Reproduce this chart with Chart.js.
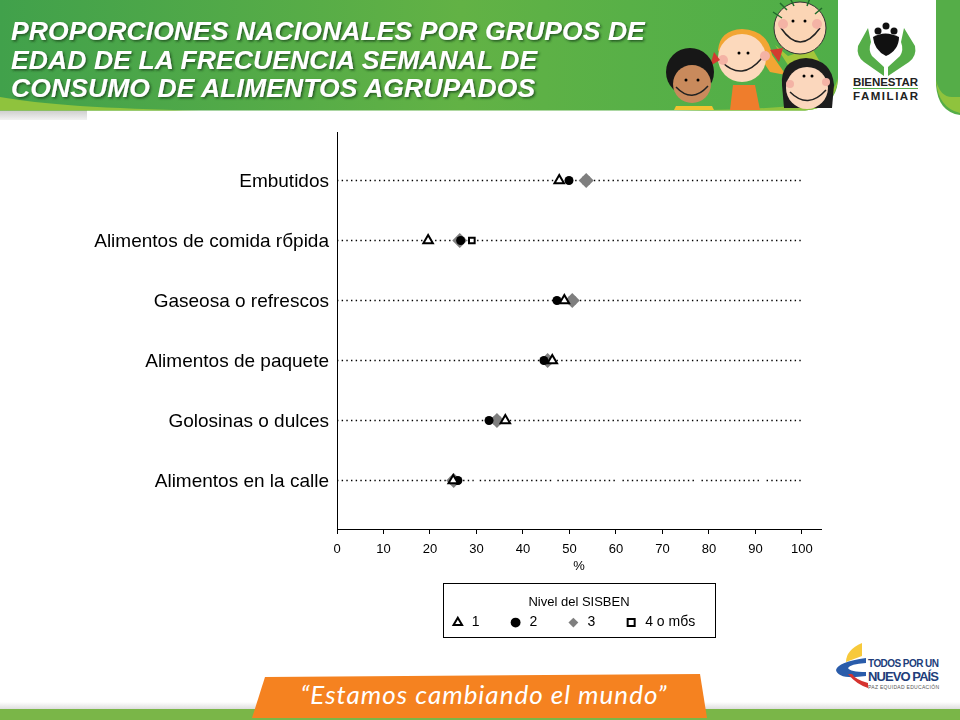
<!DOCTYPE html>
<html><head><meta charset="utf-8">
<style>
html,body{margin:0;padding:0;background:#fff;width:960px;height:720px;overflow:hidden}
#deco{position:absolute;left:0;top:0}
#wrap{position:absolute;left:0;top:0;width:960px;height:720px}
</style>
<script src="https://cdn.jsdelivr.net/npm/chart.js@4"></script>
</head><body>
<svg id="deco" width="960" height="720" viewBox="0 0 960 720" font-family="Liberation Sans">
<defs>
<linearGradient id="hd" x1="0" x2="1" y1="0" y2="0"><stop offset="0" stop-color="#41a14b"/><stop offset=".55" stop-color="#62b245"/><stop offset=".75" stop-color="#58b047"/><stop offset="1" stop-color="#4fae48"/></linearGradient>
<linearGradient id="gs" x1="0" x2="0" y1="0" y2="1"><stop offset="0" stop-color="#fff"/><stop offset="1" stop-color="#d9d9d9"/></linearGradient>
<linearGradient id="gy" x1="0" x2="0" y1="0" y2="1"><stop offset="0" stop-color="#ccc"/><stop offset="1" stop-color="#f2f2f2"/></linearGradient>
<filter id="sh" x="-5%" y="-20%" width="110%" height="140%"><feDropShadow dx="1.5" dy="1.5" stdDeviation="0.8" flood-color="#1b4d1f" flood-opacity=".9"/></filter>
</defs>
<rect x="0" y="110" width="87" height="10" fill="url(#gy)"/>
<path d="M0 0H838V80Q836 108 805 110.5H0Z" fill="url(#hd)"/>
<path d="M0 97Q60 108 200 110.500H0Z" fill="#8fc33d"/>
<path d="M838 78Q836 108 805 110.500H660Q800 110 822 100Q834 92 838 78Z" fill="#8fc33d"/>
<path d="M936 0H960V115Q938 112 936 85Z" fill="#55ad48"/>
<path d="M936 80Q938 108 960 113V97H952Q940 97 936 80Z" fill="#8fc33d"/>
<g font-weight="bold" font-style="italic" font-size="26.500" fill="#fff" filter="url(#sh)" letter-spacing="0.1">
<text x="11" y="40">PROPORCIONES NACIONALES POR GRUPOS DE</text>
<text x="11" y="68.500">EDAD DE LA FRECUENCIA SEMANAL DE</text>
<text x="11" y="96.500">CONSUMO DE ALIMENTOS AGRUPADOS</text>
</g>
<!-- niños -->
<g>
<path d="M775 45L788 56L812 48L820 62L790 68Z" fill="#a5c63b"/>
<circle cx="800" cy="28" r="26" fill="#fbd5b5" stroke="#333" stroke-width="1"/>
<path d="M781 28Q800 56 820 28" fill="none" stroke="#222" stroke-width="1.500"/>
<circle cx="783" cy="24" r="5" fill="#f4b3a5"/><circle cx="817" cy="24" r="5" fill="#f4b3a5"/>
<circle cx="793" cy="21" r="1.500"/><circle cx="805" cy="21" r="1.500"/>
<path d="M773 12L782 18M780 3L787 10M790 -2L794 6M810 -2L807 6M822 8L815 14" stroke="#1f6b2a" stroke-width="1.500"/>
<path d="M733 85H755L760 110H730Z" fill="#ef7d2c"/>
<path d="M718 50Q720 30 742 29Q768 30 772 55L786 75L770 72L762 60H722Z" fill="#f2a533"/>
<circle cx="742" cy="58" r="24" fill="#fcd9bc"/>
<path d="M722 62Q742 82 762 58" fill="none" stroke="#222" stroke-width="1.500"/>
<circle cx="723" cy="60" r="5" fill="#f4b3a5"/><circle cx="765" cy="56" r="5" fill="#f4b3a5"/>
<circle cx="739" cy="53" r="1.500"/><circle cx="748" cy="53" r="1.500"/>
<path d="M770 50L783 48L779 62Z" fill="#d3392f"/><path d="M714 52L720 60L710 66Z" fill="#d3392f"/>
<path d="M676 106H712L714 110H674Z" fill="#f2c230"/>
<circle cx="690" cy="72" r="24" fill="#171717"/>
<circle cx="692" cy="84" r="19" fill="#c98a5c"/>
<path d="M676 87Q692 104 708 86" fill="none" stroke="#222" stroke-width="1.500"/>
<circle cx="686" cy="80" r="1.500"/><circle cx="698" cy="80" r="1.500"/>
<path d="M782 85Q780 60 806 58Q832 60 834 85L832 108H784Z" fill="#1d1d1d"/>
<circle cx="807" cy="88" r="21" fill="#fbd7bd"/>
<path d="M790 92Q808 110 826 90" fill="none" stroke="#222" stroke-width="1.500"/>
<circle cx="804" cy="76" r="1.500"/><circle cx="812" cy="76" r="1.500"/>
<circle cx="790" cy="84" r="4" fill="#f4b3a5"/><circle cx="826" cy="82" r="4" fill="#f4b3a5"/>
</g>
<!-- logo Bienestar -->
<g>
<path d="M868 28L858 46Q856 56 864 62L884 76V67L872 56Q868 50 871 42Z" fill="#55ad48"/>
<path d="M904 28L915 46Q917 56 909 62L888 76V67L900 56Q904 50 901 42Z" fill="#55ad48"/>
<circle cx="886" cy="26" r="3.500" fill="#111"/><circle cx="878" cy="31" r="3.500" fill="#111"/><circle cx="894" cy="31" r="3.500" fill="#111"/>
<path d="M873 37Q885 30 899 37Q899 50 886 56Q874 50 873 37Z" fill="#111"/>
<text x="853" y="86" font-size="11.500" font-weight="bold" fill="#222" textLength="65">BIENESTAR</text>
<rect x="853" y="88" width="65" height="1" fill="#55ad48"/>
<text x="853" y="100" font-size="11.500" font-weight="bold" fill="#222" textLength="65">FAMILIAR</text>
</g>
<!-- pie -->
<rect x="0" y="702" width="960" height="8" fill="url(#gs)"/>
<rect x="0" y="709" width="960" height="11" fill="#7ab648"/>
<path d="M265 677L700 674L707 718H252Z" fill="#f58220"/>
<text x="484" y="704" text-anchor="middle" font-family="Lato" font-style="italic" font-size="26" fill="#fff" letter-spacing="1">“Estamos cambiando el mundo”</text>
<g>
<path d="M862 643Q846 650 846 662L862 656Z" fill="#f7c93b"/>
<path d="M866 658Q838 662 836 670Q838 680 866 676V672Q850 672 848 668Q850 664 866 663Z" fill="#2a5caa"/>
<path d="M848 674Q856 684 868 688V683Q856 680 852 674Z" fill="#d5332f"/>
<text x="868" y="667" font-size="10" font-weight="bold" fill="#203d7a" textLength="71">TODOS POR UN</text>
<text x="868" y="681" font-size="13" font-weight="bold" fill="#203d7a" textLength="71">NUEVO PAÍS</text>
<text x="868" y="689" font-size="5" fill="#555" textLength="71">PAZ EQUIDAD EDUCACIÓN</text>
</g>
</svg>
<div id="wrap"><canvas id="c" width="960" height="720"></canvas></div>
<script>
const categories = ['Embutidos','Alimentos de comida rбpida','Gaseosa o refrescos','Alimentos de paquete','Golosinas o dulces','Alimentos en la calle'];
const nivel1 = [47.8,19.6,48.9,46.3,36.2,25.0];
const nivel2 = [49.9,26.6,47.3,44.5,32.7,26.0];
const nivel3 = [53.6,26.4,50.6,45.3,34.4,25.1];
const nivel4 = [53.6,29.0,50.6,45.3,34.4,25.1];
const xTicks = [0,10,20,30,40,50,60,70,80,90,100];
const guideEnds = [0,100];
const calleBreaks = [[0,29.4],[30.700,46.3],[47.4,60.3],[61.4,77.3],[78.4,91.3],[92.4,100]];
const legendTitle = 'Nivel del SISBEN';
const seriesNames = ['1','2','3','4 o mбs'];
const xTitle = '%';

const font = 'Liberation Sans';
const pts = v => v.map((x,i)=>({x,y:i+1}));
const guides = categories.map((c,i)=>{
  let data;
  if(i===categories.length-1){
    data=[];
    calleBreaks.forEach(s=>{data.push({x:s[0],y:i+1},{x:s[1],y:i+1},{x:s[1],y:null});});
  } else data=guideEnds.map(x=>({x,y:i+1}));
  return {label:'',data,showLine:true,borderColor:'#000',borderWidth:1.300,borderDash:[1.400,3.270],pointRadius:0,order:10,spanGaps:false};
});
const marks = [
 {label:seriesNames[0],data:pts(nivel1),pointStyle:'triangle',pointRadius:5.500,backgroundColor:'#fff',borderColor:'#000',pointBorderWidth:2,order:1},
 {label:seriesNames[1],data:pts(nivel2),pointStyle:'circle',pointRadius:4.500,backgroundColor:'#000',borderColor:'#000',pointBorderWidth:0,order:2},
 {label:seriesNames[2],data:pts(nivel3),pointStyle:'rectRot',pointRadius:7.500,backgroundColor:'#7f7f7f',borderColor:'#7f7f7f',pointBorderWidth:0,order:3},
 {label:seriesNames[3],data:pts(nivel4),pointStyle:'rect',pointRadius:4,backgroundColor:'#fff',borderColor:'#000',pointBorderWidth:2,order:4}
];
const legendBox = {
  id:'legendBox',
  beforeDraw(ch){
    const l=ch.legend;
    if(l.lineWidths && !l._nudged){l.lineWidths[0]+=12;l._nudged=true;}
  },
  afterDraw(ch){
    const l=ch.legend, g=ch.ctx, cx=(ch.chartArea.left+ch.chartArea.right)/2;
    g.save();g.strokeStyle='#000';g.lineWidth=1;
    g.strokeRect(Math.round(cx-136)+.5,Math.round(l.top)+.5,272,54);
    g.restore();
  }
};
new Chart(document.getElementById('c'),{
  type:'scatter',
  data:{datasets:[...marks,...guides]},
  plugins:[legendBox],
  options:{
    responsive:false,animation:false,
    layout:{padding:{left:0,top:132,right:139,bottom:83}},
    scales:{
      x:{type:'linear',min:0,max:104.1,
        afterBuildTicks(s){s.ticks=xTicks.map(value=>({value}));},
        afterFit(s){s.height=54;},
        grid:{drawOnChartArea:false,drawTicks:true,tickLength:5,tickColor:'#000',tickWidth:1},
        border:{color:'#000',width:1},
        ticks:{color:'#000',font:{family:font,size:13},padding:8,maxRotation:0,autoSkip:false,callback:v=>String(v)},
        title:{display:true,text:xTitle,color:'#000',font:{family:font,size:13},padding:{top:0,bottom:9}}
      },
      y:{type:'linear',reverse:true,min:0.1917,max:6.8083,
        afterBuildTicks(s){s.ticks=categories.map((c,i)=>({value:i+1}));},
        afterFit(s){s.width=337;},
        grid:{display:false},
        border:{color:'#000',width:1},
        ticks:{color:'#000',font:{family:font,size:19},padding:0,labelOffset:1,autoSkip:false,callback:v=>categories[v-1]}
      }
    },
    plugins:{
      tooltip:{enabled:false},
      legend:{display:true,position:'bottom',fullSize:false,maxHeight:54,
        title:{display:true,text:legendTitle,color:'#000',font:{family:font,size:13},padding:{top:13,bottom:-25}},
        labels:{usePointStyle:true,boxWidth:14,boxHeight:7,padding:29,color:'#000',font:{family:font,size:14},
          filter:it=>it.text!==''}
      }
    }
  }
});
</script>
</body></html>
